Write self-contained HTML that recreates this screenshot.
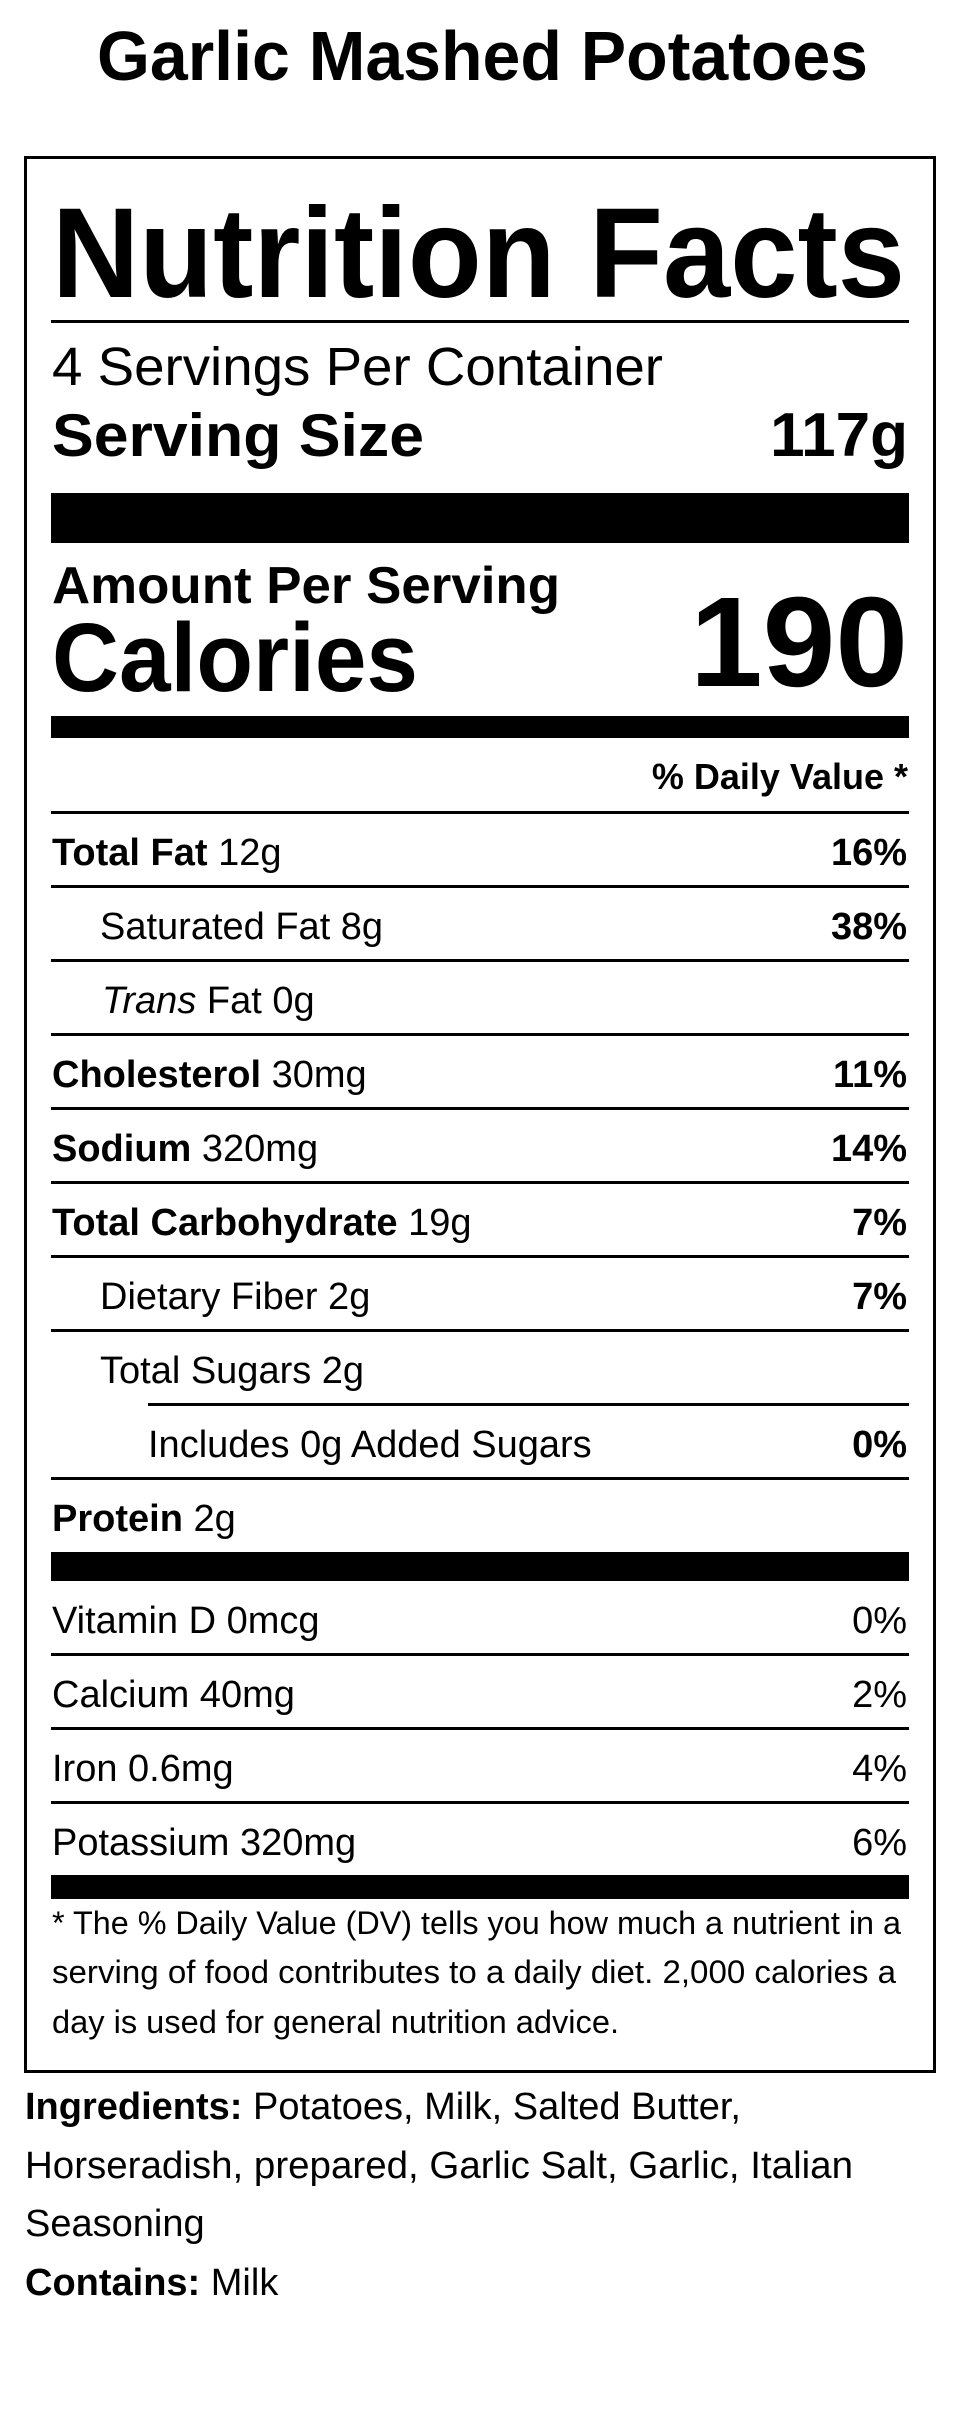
<!DOCTYPE html>
<html><head><meta charset="utf-8"><style>
html,body{margin:0;padding:0;background:#fff;}
svg{display:block;}
text{font-family:"Liberation Sans",Arial,sans-serif;fill:#000;}
.b{font-weight:bold;}
</style></head><body>
<svg width="960" height="2430" viewBox="0 0 960 2430" xmlns="http://www.w3.org/2000/svg">
<text class="b" x="97" y="80" font-size="70" textLength="771" lengthAdjust="spacingAndGlyphs">Garlic Mashed Potatoes</text>
<rect x="25.5" y="157.5" width="909" height="1914" fill="none" stroke="#000" stroke-width="3"/>
<text class="b" x="52" y="297" font-size="128" textLength="853" lengthAdjust="spacingAndGlyphs">Nutrition Facts</text>
<rect x="51" y="320" width="858" height="3"/>
<text x="52" y="385" font-size="54" textLength="611" lengthAdjust="spacingAndGlyphs">4 Servings Per Container</text>
<text class="b" x="52" y="456" font-size="60" textLength="372" lengthAdjust="spacingAndGlyphs">Serving Size</text>
<text class="b" x="908" y="456" font-size="62" text-anchor="end">117g</text>
<rect x="51" y="493" width="858" height="50"/>
<text class="b" x="52" y="603" font-size="52" textLength="508" lengthAdjust="spacingAndGlyphs">Amount Per Serving</text>
<text class="b" x="52" y="691" font-size="97" textLength="366" lengthAdjust="spacingAndGlyphs">Calories</text>
<text class="b" x="908" y="686" font-size="128" text-anchor="end" textLength="218" lengthAdjust="spacingAndGlyphs">190</text>
<rect x="51" y="716" width="858" height="22"/>
<text class="b" x="908" y="789" font-size="36" text-anchor="end">% Daily Value *</text>
<g fill="#000">
<rect x="51" y="811" width="858" height="3"/>
<rect x="51" y="885" width="858" height="3"/>
<rect x="51" y="959" width="858" height="3"/>
<rect x="51" y="1033" width="858" height="3"/>
<rect x="51" y="1107" width="858" height="3"/>
<rect x="51" y="1181" width="858" height="3"/>
<rect x="51" y="1255" width="858" height="3"/>
<rect x="51" y="1329" width="858" height="3"/>
<rect x="148" y="1403" width="761" height="3"/>
<rect x="51" y="1477" width="858" height="3"/>
<rect x="51" y="1552" width="858" height="29"/>
<rect x="51" y="1653" width="858" height="3"/>
<rect x="51" y="1727" width="858" height="3"/>
<rect x="51" y="1801" width="858" height="3"/>
<rect x="51" y="1875" width="858" height="24"/>
</g>
<g font-size="38">
<text x="52" y="865"><tspan class="b">Total Fat</tspan> 12g</text>
<text class="b" x="907" y="865" text-anchor="end">16%</text>
<text x="100" y="939">Saturated Fat 8g</text>
<text class="b" x="907" y="939" text-anchor="end">38%</text>
<text x="102" y="1013"><tspan font-style="italic">Trans</tspan> Fat 0g</text>
<text x="52" y="1087"><tspan class="b">Cholesterol</tspan> 30mg</text>
<text class="b" x="907" y="1087" text-anchor="end">11%</text>
<text x="52" y="1161"><tspan class="b">Sodium</tspan> 320mg</text>
<text class="b" x="907" y="1161" text-anchor="end">14%</text>
<text x="52" y="1235"><tspan class="b">Total Carbohydrate</tspan> 19g</text>
<text class="b" x="907" y="1235" text-anchor="end">7%</text>
<text x="100" y="1309">Dietary Fiber 2g</text>
<text class="b" x="907" y="1309" text-anchor="end">7%</text>
<text x="100" y="1383">Total Sugars 2g</text>
<text x="148" y="1457">Includes 0g Added Sugars</text>
<text class="b" x="907" y="1457" text-anchor="end">0%</text>
<text x="52" y="1531"><tspan class="b">Protein</tspan> 2g</text>
<text x="52" y="1633">Vitamin D 0mcg</text>
<text x="907" y="1633" text-anchor="end">0%</text>
<text x="52" y="1707">Calcium 40mg</text>
<text x="907" y="1707" text-anchor="end">2%</text>
<text x="52" y="1781">Iron 0.6mg</text>
<text x="907" y="1781" text-anchor="end">4%</text>
<text x="52" y="1855">Potassium 320mg</text>
<text x="907" y="1855" text-anchor="end">6%</text>
</g>
<g font-size="32">
<text x="52" y="1934" textLength="849" lengthAdjust="spacingAndGlyphs">* The % Daily Value (DV) tells you how much a nutrient in a</text>
<text x="52" y="1983" textLength="844" lengthAdjust="spacingAndGlyphs">serving of food contributes to a daily diet. 2,000 calories a</text>
<text x="52" y="2033" textLength="567" lengthAdjust="spacingAndGlyphs">day is used for general nutrition advice.</text>
</g>
<g font-size="38">
<text x="25" y="2119"><tspan class="b">Ingredients:</tspan> Potatoes, Milk, Salted Butter,</text>
<text x="25" y="2178" textLength="828" lengthAdjust="spacingAndGlyphs">Horseradish, prepared, Garlic Salt, Garlic, Italian</text>
<text x="25" y="2236">Seasoning</text>
<text x="25" y="2295"><tspan class="b">Contains:</tspan> Milk</text>
</g>
</svg>
</body></html>
